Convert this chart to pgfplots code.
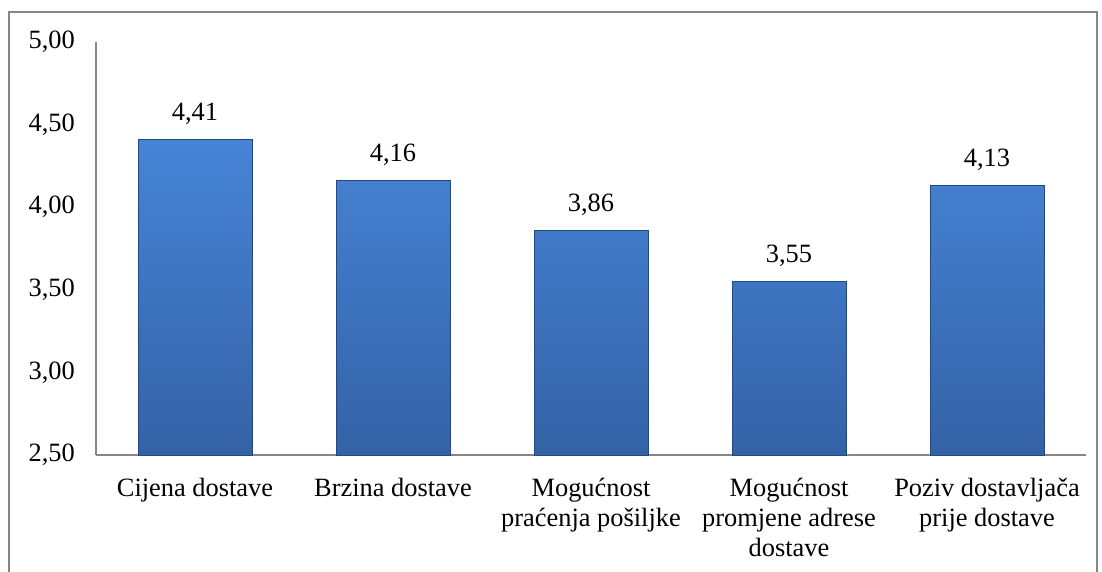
\documentclass[border=0pt]{standalone}
\usepackage{pgfplots}
\pgfplotsset{compat=1.18}
\usepackage{fontspec}
\setmainfont{Liberation Serif}
\definecolor{axgray}{RGB}{134,134,134}
\definecolor{bartop}{RGB}{70,132,214}
\definecolor{barbot}{RGB}{52,98,166}
\definecolor{baredge}{RGB}{38,72,128}
\begin{document}
\fontsize{13.2}{15.6}\selectfont
\begin{tikzpicture}
\useasboundingbox (0,0) rectangle (551pt,286pt);
\begin{scope}
\clip (0,0) rectangle (551pt,286pt);
\draw[axgray, line width=0.8pt] (4.5pt,-10pt) rectangle (548.5pt,280pt);
\end{scope}
\begin{axis}[
  at={(48pt,58.5pt)}, anchor=south west,
  scale only axis,
  width=495pt, height=206.5pt,
  xmin=-0.5, xmax=4.5,
  ymin=2.5, ymax=5,
  ytick={2.5,3,3.5,4,4.5,5},
  xtick=data,
  xticklabels={Cijena dostave, Brzina dostave, {Mogućnost\\praćenja pošiljke}, {Mogućnost\\promjene adrese\\dostave}, {Poziv dostavljača\\prije dostave}},
  xticklabel style={align=center, font=\fontsize{13.2}{15}\selectfont, yshift=-7pt},
  yticklabel style={font=\fontsize{13.2}{15.6}\selectfont, xshift=-6pt},
  major tick length=0pt,
  axis x line*=bottom, axis y line*=left,
  axis line style={axgray, line width=0.8pt, -},
  separate axis lines,
  /pgf/number format/.cd, fixed, fixed zerofill, precision=2, use comma, assume math mode=true,
  /pgfplots/.cd,
  nodes near coords,
  every node near coord/.append style={font=\fontsize{13.2}{15.6}\selectfont, yshift=3pt},
  clip=false,
]
\addplot[ybar, bar width=57pt, draw=baredge, line width=0.4pt, top color=bartop, bottom color=barbot] coordinates {
(0,4.41) (1,4.16) (2,3.86) (3,3.55) (4,4.13)
};
\end{axis}
\end{tikzpicture}
\end{document}
